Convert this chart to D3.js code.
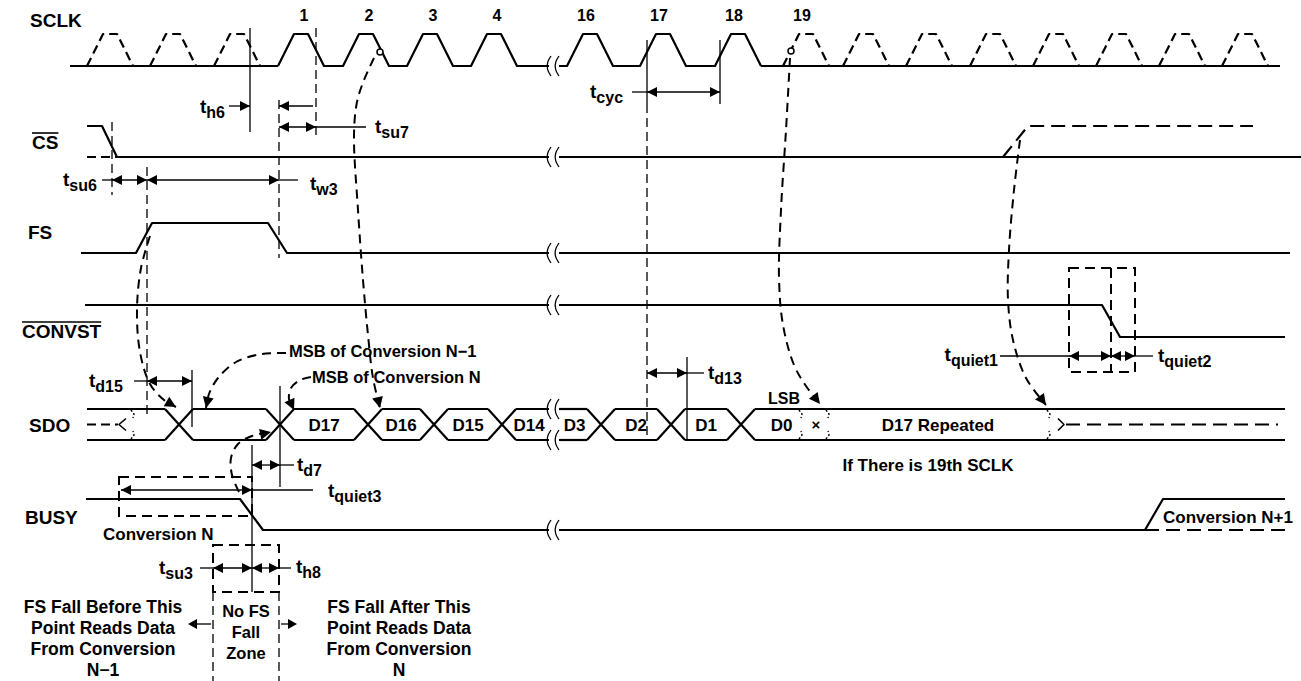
<!DOCTYPE html>
<html><head><meta charset="utf-8">
<script src="https://cdn.jsdelivr.net/npm/d3@7"></script>
<style>
body{margin:0;background:#fff;}
svg text{font-family:"Liberation Sans",Arial,Helvetica,sans-serif;font-weight:bold;fill:#000;}
</style></head><body>
<svg id="c" width="1301" height="681"></svg>
<script>
// ================= DATA (time axis in diagram units) =================
const signalNames = ["SCLK", "CS", "FS", "CONVST", "SDO", "BUSY"];
const clockRise   = [87,150,214,278,343,407,471,567,640,715,783,843,906,970,1033,1096,1159,1222];
const clockSolid  = [0,0,0,1,1,1,1,1,1,1,0,0,0,0,0,0,0,0];
const clockNumber = ["","","","1","2","3","4","16","17","18","19","","","","","","",""];
const csWave      = [[87,1],[102,1],[117,0],[1301,0]];
const csFuture    = [[1003,0],[1028,1],[1253,1]];
const fsWave      = [[81,0],[136,0],[152,1],[268,1],[287,0],[1290,0]];
const convstWave  = [[85,1],[1102,1],[1120,0],[1285,0]];
const busyWave    = [[86,1],[240,1],[263,0],[1145,0],[1163,1],[1285,1]];
const busyAlt     = [[1145,0],[1285,0]];
const sdoCross    = [179,280,368,434,502,601,671,741];
const sdoWords    = ["","D17","D16","D15","D14","D3","D2","D1","D0"];
const breakAt     = [548,560];
// timing intervals [from, to]
const tSu6=[112,147], tW3=[147,279], tH6=[250,279], tSu7=[279,316], tCyc=[647,720],
      tD15=[147,192], tD13=[647,687], tD7=[252,280], tQuiet3=[121,252],
      tSu3=[213,252], tH8=[252,279], tQuiet1=[1069,1111], tQuiet2=[1111,1135];

// ================= LAYOUT =================
const svg = d3.select("#c");
const x = d3.scaleLinear().domain([0,1301]).range([0,1301]);
const lv = {
  SCLK:d3.scaleLinear().domain([0,1]).range([66,34]),
  CS:d3.scaleLinear().domain([0,1]).range([157,126]),
  FS:d3.scaleLinear().domain([0,1]).range([253,223]),
  CONVST:d3.scaleLinear().domain([0,1]).range([337,305]),
  SDO:d3.scaleLinear().domain([0,1]).range([440,409]),
  BUSY:d3.scaleLinear().domain([0,1]).range([530,499])
};
const labelPos = {SCLK:[30,27],CS:[32,149],FS:[28,239],CONVST:[22,338],SDO:[29,432],BUSY:[25,524]};
const SW=2.2, TW=1.3;
const g = svg.append("g");
const lineGen = d3.line().x(d=>d[0]).y(d=>d[1]);

function path(pts, o={}){
  return g.append("path").attr("d", (o.curve? d3.line().curve(o.curve):lineGen)(pts))
   .attr("fill","none").attr("stroke","#000")
   .attr("stroke-width", o.w||SW).attr("stroke-dasharray", o.dash||null)
   .attr("stroke-linejoin","round");
}
function head(tx,ty,ang,len=10,hw=5){
  const c=Math.cos(ang), s=Math.sin(ang);
  const bx=tx-c*len, by=ty-s*len;
  g.append("path").attr("d",`M${tx},${ty}L${bx-s*hw},${by+c*hw}L${bx+s*hw},${by-c*hw}Z`).attr("fill","#000");
}
function vline(xx,y1,y2,dash,w){ path([[x(xx),y1],[x(xx),y2]],{w:w||TW,dash:dash}); }
function dim(iv,yy){
  path([[x(iv[0]),yy],[x(iv[1]),yy]],{w:TW});
  head(x(iv[0]),yy,Math.PI); head(x(iv[1]),yy,0);
}
function tlab(xx,yy,sub,anchor){
  const t=g.append("text").attr("x",xx).attr("y",yy).attr("font-size",19).attr("text-anchor",anchor||"start");
  t.append("tspan").text("t");
  t.append("tspan").attr("font-size",16).attr("dy",5).text(sub);
  return t;
}
function txt(s,xx,yy,size,anchor){
  return g.append("text").attr("x",xx).attr("y",yy).attr("font-size",size).attr("text-anchor",anchor||"start").text(s);
}
function wave(pts, sc, o){ path(pts.map(d=>[x(d[0]),sc(d[1])]), o); }

// ---------- signal names ----------
signalNames.forEach(n=>{
  const t=txt(n,labelPos[n][0],labelPos[n][1],19);
  if(n==="CS"||n==="CONVST"){
    const w=t.node().getComputedTextLength();
    path([[labelPos[n][0],labelPos[n][1]-16],[labelPos[n][0]+w,labelPos[n][1]-16]],{w:1.6});
  }
});

// ---------- SCLK ----------
const R=16, T=14, F=16, sc=lv.SCLK;
const firstSolid = clockSolid.indexOf(1), lastSolid = clockSolid.lastIndexOf(1);
path([[x(70),sc(0)],[x(clockRise[firstSolid]),sc(0)]]);
path([[x(clockRise[lastSolid]+R+T+F),sc(0)],[x(1280),sc(0)]]);
let sp=[];
clockRise.forEach((r,i)=>{
  const pts=[[x(r),sc(0)],[x(r+R),sc(1)],[x(r+R+T),sc(1)],[x(r+R+T+F),sc(0)]];
  if(clockSolid[i]) sp=sp.concat(pts);
  else path(pts,{dash:"9,5"});
  if(clockNumber[i]) txt(clockNumber[i], x(r+R+T/2)+(i<7?3:-4), 21, 16, "middle");
});
path(sp);

// ---------- CS / FS / CONVST / BUSY ----------
wave(csWave, lv.CS);
path([[x(87),lv.CS(0)],[x(117),lv.CS(0)]],{dash:"9,5"});
wave(csFuture, lv.CS, {dash:"14,7"});
wave(fsWave, lv.FS);
wave(convstWave, lv.CONVST);
wave(busyWave, lv.BUSY);
wave(busyAlt, lv.BUSY, {dash:"14,7"});

// ---------- SDO bus ----------
const sd=lv.SDO, h=14, mid=(sd(0)+sd(1))/2;
function busSeg(a,b){ path([[x(a),sd(1)],[x(b),sd(1)]]); path([[x(a),sd(0)],[x(b),sd(0)]]); }
busSeg(87, sdoCross[0]-h);
sdoCross.forEach((c,i)=>{
  path([[x(c-h),sd(1)],[x(c+h),sd(0)]]); path([[x(c-h),sd(0)],[x(c+h),sd(1)]]);
  const nx = i+1<sdoCross.length ? sdoCross[i+1]-h : 1285;
  if(c<breakAt[0] && nx>breakAt[0]) busSeg(c+h, breakAt[0]+4); else busSeg(c+h, nx);
});
busSeg(breakAt[1]-4, sdoCross[5]-h);
sdoWords.forEach((w,i)=>{
  if(!w) return;
  let a,b;
  if(i<=4){ a=sdoCross[i]; b= i<4? sdoCross[i+1] : breakAt[0]+8; }
  else if(i===5){ a=breakAt[1]-12; b=sdoCross[5]; }
  else if(i<8){ a=sdoCross[i-1]; b=sdoCross[i]; }
  else { a=sdoCross[7]; b=822; }
  txt(w, x((a+b)/2), mid+6.5, 17, "middle");
});
// hi-Z entry on the left
path([[x(87),mid],[x(118),mid]],{dash:"9,5"});
path([[x(126),mid-6],[x(119),mid],[x(126),mid+6]],{w:1.6});
[[134,1],[134,0],[802,1],[802,0],[829,1],[829,0],[1050,1],[1050,0]].forEach(d=>{
  const yy=sd(d[1]), s= d[1]?1:-1;
  path([[x(d[0])-3,yy+s*1],[x(d[0]),yy+s*5],[x(d[0])-1,yy+s*9]],{w:1.4,dash:"2,2"});
});
txt("×", x(816), mid+5, 15, "middle");
txt("D17 Repeated", x(938), mid+6.5, 17, "middle");
path([[x(1058),mid-6],[x(1064),mid],[x(1058),mid+6]],{w:1.6});
path([[x(1066),mid],[x(1278),mid]],{dash:"14,7"});
txt("If There is 19th SCLK", x(928), 471, 17, "middle");
txt("LSB", x(784), 404, 16, "middle");

// ---------- breaks ----------
const rowsY=[lv.SCLK(0),lv.CS(0),lv.FS(0),lv.CONVST(1),lv.SDO(1),lv.SDO(0),lv.BUSY(0)];
rowsY.forEach(yy=>{
  g.append("rect").attr("x",x(breakAt[0])+1).attr("y",yy-4).attr("width",x(breakAt[1])-x(breakAt[0])-2).attr("height",8).attr("fill","#fff");
  [breakAt[0]+1,breakAt[1]-3].forEach(bx=>{
    path([[x(bx)+2,yy-10],[x(bx)-2,yy-4],[x(bx)-2,yy+4],[x(bx)+2,yy+10]],{w:1.3,curve:d3.curveBasis});
  });
});

// ---------- reference verticals ----------
vline(112,122,195,"9,5");
vline(147,167,416,"9,5");
vline(279,100,258,"9,5");
vline(316,28,135,"9,5");
vline(250,28,132);
vline(647,40,104); vline(647,104,440,"9,5");
vline(720,40,104);
vline(687,357,440);
vline(192,370,427);
vline(280,386,487);
vline(252,445,592);
vline(213,592,681,"9,5"); vline(279,592,681,"9,5");

// ---------- dimensions ----------
dim(tSu6,180); dim(tW3,180);
path([[102,180],[x(112),180]],{w:TW}); tlab(63,186,"su6");
path([[x(279),180],[298,180]],{w:TW}); tlab(310,190,"w3");
// th6 (outside arrows)
path([[229,106],[x(tH6[0]),106]],{w:TW}); head(x(tH6[0]),106,0);
path([[x(tH6[1]),106],[313,106]],{w:TW}); head(x(tH6[1]),106,Math.PI);
tlab(200,113,"h6");
dim(tSu7,127); path([[x(316),127],[366,127]],{w:TW}); tlab(375,133,"su7");
dim(tCyc,92); path([[632,92],[x(647),92]],{w:TW}); tlab(590,98,"cyc");
dim(tD15,381); path([[134,381],[x(147),381]],{w:TW}); tlab(89,387,"d15");
dim(tD13,373); path([[x(687),373],[704,373]],{w:TW}); tlab(708,379,"d13");
dim(tD7,465); path([[x(280),465],[294,465]],{w:TW}); tlab(297,471,"d7");
dim(tQuiet3,490); path([[x(252),490],[313,490]],{w:TW}); tlab(328,497,"quiet3");
dim(tSu3,568); dim(tH8,568);
path([[200,568],[x(213),568]],{w:TW}); path([[x(279),568],[291,568]],{w:TW});
tlab(159,574,"su3"); tlab(296,573,"h8");
dim(tQuiet1,356); dim(tQuiet2,356);
path([[1000,356],[x(1069),356]],{w:TW}); path([[x(1135),356],[1153,356]],{w:TW});
tlab(998,361,"quiet1","end"); tlab(1158,362,"quiet2");

// ---------- dashed boxes ----------
function dbox(x1,x2,y1,y2){
  g.append("rect").attr("x",x(x1)).attr("y",y1).attr("width",x(x2)-x(x1)).attr("height",y2-y1)
   .attr("fill","none").attr("stroke","#000").attr("stroke-width",2).attr("stroke-dasharray","10,6");
}
dbox(119,252,477,516);
dbox(213,279,545,592);
dbox(1069,1135,268,372);
vline(1111,268,372,"10,6",2);

// ---------- cause/effect dashed curves ----------
function arc(pts){
  const p=pts.map(d=>[x(d[0]),d[1]]);
  path(p,{curve:d3.curveCatmullRom, dash:"9,6", w:2});
  const a=p[p.length-2], b=p[p.length-1];
  head(b[0],b[1],Math.atan2(b[1]-a[1],b[0]-a[0]),11,5.5);
}
arc([[150,236],[141,268],[137,310],[140,352],[150,384],[164,400],[176,407]]);
arc([[286,353],[262,354],[236,362],[218,378],[209,394],[206,408]]);
arc([[311,377],[300,380],[291,388],[289,399],[294,410]]);
arc([[374,58],[364,80],[357,102],[354,135],[358,210],[363,280],[368,335],[373,378],[380,408]]);
arc([[790,58],[786,130],[781,210],[779,278],[783,325],[794,365],[806,386],[820,404]]);
arc([[1020,140],[1014,190],[1009,250],[1008,300],[1013,340],[1026,378],[1046,405]]);
arc([[239,492],[232,475],[231,458],[238,444],[252,436],[271,432]]);
[[380,52],[791,51]].forEach(c=>g.append("circle").attr("cx",x(c[0])).attr("cy",c[1]).attr("r",3).attr("fill","#fff").attr("stroke","#000").attr("stroke-width",1.5));

// ---------- annotations ----------
txt("MSB of Conversion N\u22121", 289, 357, 16.5);
txt("MSB of Conversion N", 312, 383, 16.5);
txt("Conversion N", 103, 540, 17);
txt("Conversion N+1", 1163, 523, 17);
const leftLines=["FS Fall Before This","Point Reads Data","From Conversion","N\u22121"];
const rightLines=["FS Fall After This","Point Reads Data","From Conversion","N"];
const midLines=["No FS","Fall","Zone"];
const base=[613,634,655,676];
leftLines.forEach((s,i)=>txt(s,103,base[i],17.5,"middle"));
rightLines.forEach((s,i)=>txt(s,399,base[i],17.5,"middle"));
midLines.forEach((s,i)=>txt(s,246,[617,638,659][i],16.5,"middle"));
path([[x(211),624],[x(195),624]],{w:TW}); head(x(188),624,Math.PI,9,5);
path([[x(281),624],[x(289),624]],{w:TW}); head(x(297),624,0,9,5);
</script>
</body></html>
